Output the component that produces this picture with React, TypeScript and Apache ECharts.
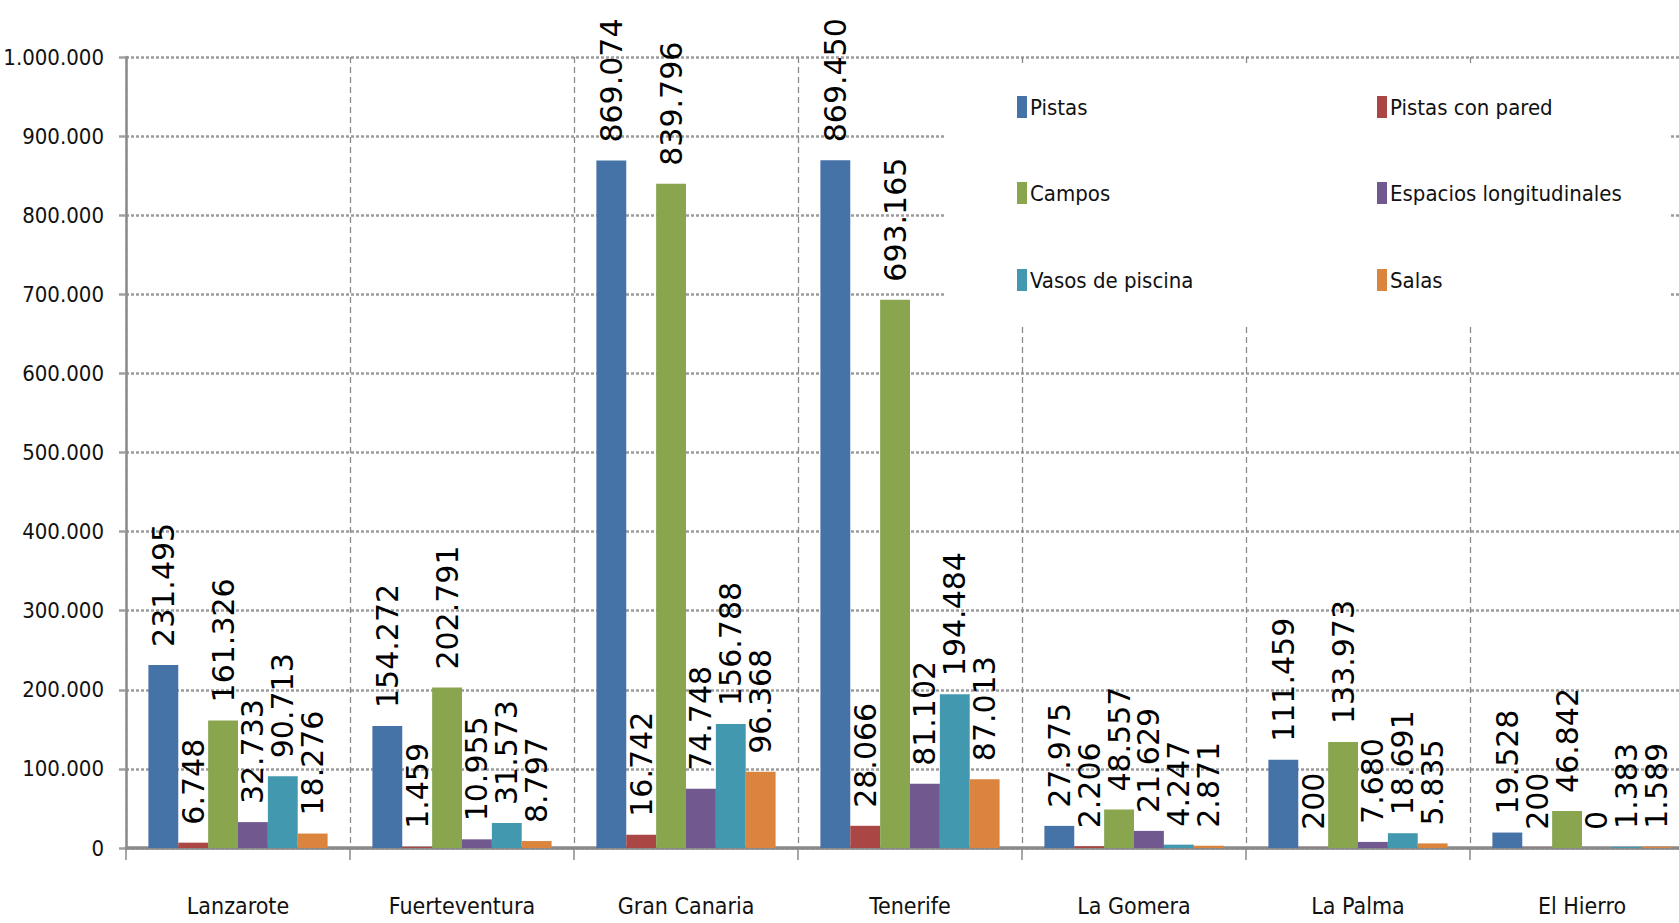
import React, { useEffect, useRef } from "react";
import * as echarts from "echarts";

const categories = ["Lanzarote", "Fuerteventura", "Gran Canaria", "Tenerife", "La Gomera", "La Palma", "El Hierro"];
const seriesNames = ["Pistas", "Pistas con pared", "Campos", "Espacios longitudinales", "Vasos de piscina", "Salas"];
const pistas = [231495, 154272, 869074, 869450, 27975, 111459, 19528];
const pistasConPared = [6748, 1459, 16742, 28066, 2206, 200, 200];
const campos = [161326, 202791, 839796, 693165, 48557, 133973, 46842];
const espaciosLongitudinales = [32733, 10955, 74748, 81102, 21629, 7680, 0];
const vasosDePiscina = [90713, 31573, 156788, 194484, 4247, 18691, 1383];
const salas = [18276, 8797, 96368, 87013, 2871, 5835, 1589];
const yTicks = [0, 1000000, 100000]; // min, max, interval

const colors = ["#4572A7", "#AA4643", "#89A54E", "#71588F", "#4198AF", "#DB843D"];
const narrow = "'Liberation Sans Narrow', 'DejaVu Sans Condensed', sans-serif";

const fmt = (v: number) => String(v).replace(/\B(?=(\d{3})+(?!\d))/g, ".");

export default function App() {
  const ref = useRef<HTMLDivElement>(null);
  useEffect(() => {
    if (!ref.current) return;
    const chart = echarts.init(ref.current, undefined, { renderer: "svg" });
    const allData = [pistas, pistasConPared, campos, espaciosLongitudinales, vasosDePiscina, salas];
    const legendCols = [1017, 1377];
    const legendRows = [96, 182, 269];
    const legends = seriesNames.map((n, i) => ({
      data: [n],
      left: legendCols[i % 2],
      top: legendRows[Math.floor(i / 2)],
      padding: 0,
      icon: "rect",
      itemWidth: 10,
      itemHeight: 22,
      itemGap: 5,
      selectedMode: false,
      textStyle: { fontFamily: narrow, fontSize: 22, color: "#111", padding: [0, 0, 0, -2] },
      z: 5,
    }));
    chart.setOption({
      animation: false,
      backgroundColor: "#fff",
      legend: legends,
      graphic: [
        {
          type: "rect",
          shape: { x: 946, y: 64, width: 724, height: 263 },
          style: { fill: "#fff" },
          z: 1,
          silent: true,
        },
      ],
      grid: { left: 126, top: 57, bottom: 75, right: 6, containLabel: false, outerBoundsMode: "none" },
      xAxis: {
        type: "category",
        data: categories,
        axisLine: { lineStyle: { color: "#8a8a8a", width: 3.5 } },
        axisTick: { show: true, length: 12, interval: 0, lineStyle: { color: "#8a8a8a", width: 1.5 } },
        axisLabel: { fontFamily: narrow, fontSize: 23, color: "#111", margin: 46, interval: 0 },
        splitLine: { show: true, interval: 0, lineStyle: { color: "#8a8a8a", width: 1.3, type: [6, 4] } },
      },
      yAxis: {
        type: "value",
        min: yTicks[0],
        max: yTicks[1],
        interval: yTicks[2],
        axisLine: { show: true, lineStyle: { color: "#8a8a8a", width: 2.5 } },
        axisTick: { show: true, length: 7, lineStyle: { color: "#a0a0a0", width: 2.5 } },
        axisLabel: { fontFamily: narrow, fontSize: 22, color: "#111", margin: 22, formatter: (v: number) => fmt(v) },
        splitLine: { show: true, lineStyle: { color: "#9c9c9c", width: 2.5, type: [3, 2] } },
      },
      series: seriesNames.map((n, i) => ({
        name: n,
        type: "bar",
        data: allData[i],
        barGap: "0%",
        barCategoryGap: "20%",
        itemStyle: { color: colors[i] },
        z: 2,
        label: {
          show: true,
          position: "top",
          rotate: 90,
          align: "left",
          verticalAlign: "middle",
          distance: 18,
          fontFamily: "'DejaVu Sans', sans-serif",
          fontSize: 30,
          color: "#000",
          formatter: (p: any) => fmt(p.value),
        },
      })),
    });
    return () => chart.dispose();
  }, []);
  return (
    <div style={{ position: "fixed", left: 0, top: 0, width: 1679, height: 923, overflow: "hidden", background: "#fff" }}>
      <div ref={ref} style={{ width: 1700, height: 923 }} />
    </div>
  );
}
